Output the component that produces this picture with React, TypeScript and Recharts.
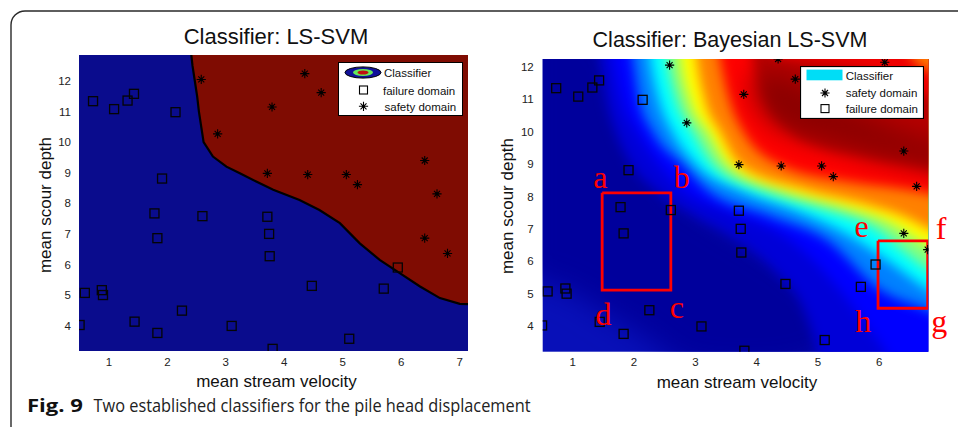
import React from 'react';
import { ComposedChart, Area, Line, Scatter, XAxis, YAxis, CartesianGrid, Legend, ReferenceDot } from 'recharts';

// ---------- shared observations ----------
const failureDomain = [
  { x: 0.73, y: 11.34 }, { x: 1.09, y: 11.08 }, { x: 1.32, y: 11.36 }, { x: 1.43, y: 11.58 },
  { x: 2.14, y: 10.98 }, { x: 1.91, y: 8.81 }, { x: 1.78, y: 7.67 }, { x: 2.6, y: 7.58 },
  { x: 3.71, y: 7.56 }, { x: 1.83, y: 6.86 }, { x: 3.74, y: 7.0 }, { x: 3.75, y: 6.27 },
  { x: 5.94, y: 5.9 }, { x: 0.59, y: 5.07 }, { x: 0.88, y: 5.16 }, { x: 0.9, y: 5.0 },
  { x: 4.47, y: 5.3 }, { x: 5.7, y: 5.21 }, { x: 2.25, y: 4.49 }, { x: 0.5, y: 4.02 },
  { x: 1.44, y: 4.13 }, { x: 1.83, y: 3.76 }, { x: 3.1, y: 3.99 }, { x: 5.11, y: 3.57 },
  { x: 3.8, y: 3.24 },
];
const safetyDomain = [
  { x: 2.58, y: 12.05 }, { x: 4.35, y: 12.24 }, { x: 6.09, y: 12.14 }, { x: 4.63, y: 11.62 },
  { x: 3.79, y: 11.15 }, { x: 2.86, y: 10.27 }, { x: 6.4, y: 9.4 }, { x: 3.71, y: 8.98 },
  { x: 4.4, y: 8.94 }, { x: 5.06, y: 8.94 }, { x: 5.25, y: 8.61 }, { x: 6.61, y: 8.31 },
  { x: 6.4, y: 6.86 }, { x: 6.79, y: 6.36 },
];

// ---------- left panel: LS-SVM ----------
const lsXDomain = [0.49, 7.14];
const lsYDomain = [3.17, 12.85];
const lsXTicks = [1, 2, 3, 4, 5, 6, 7];
const lsYTicks = [4, 5, 6, 7, 8, 9, 10, 11, 12];
const lsBoundary = [
  { x: 2.41, y: 12.85 }, { x: 2.43, y: 12.5 }, { x: 2.47, y: 12.0 }, { x: 2.51, y: 11.5 },
  { x: 2.54, y: 11.0 }, { x: 2.58, y: 10.5 }, { x: 2.62, y: 10.0 }, { x: 2.78, y: 9.53 },
  { x: 3.01, y: 9.2 }, { x: 3.24, y: 8.98 }, { x: 3.52, y: 8.71 }, { x: 3.81, y: 8.44 },
  { x: 4.26, y: 8.11 }, { x: 4.6, y: 7.78 }, { x: 4.95, y: 7.35 }, { x: 5.29, y: 6.69 },
  { x: 5.63, y: 6.15 }, { x: 5.98, y: 5.71 }, { x: 6.32, y: 5.28 }, { x: 6.66, y: 4.9 },
  { x: 7.0, y: 4.71 }, { x: 7.14, y: 4.7 },
];

// ---------- right panel: Bayesian LS-SVM ----------
const bxXDomain = [0.51, 6.8];
const bxYDomain = [3.21, 12.24];
const bxXTicks = [1, 2, 3, 4, 5, 6];
const bxYTicks = [4, 5, 6, 7, 8, 9, 10, 11, 12];

// iso-lines of the posterior surface (region up-right of each is painted)
const isoMedBlue = [
  { x: 1.35, y: 13.5 }, { x: 1.45, y: 12.24 }, { x: 1.55, y: 11.0 }, { x: 1.7, y: 10.0 },
  { x: 1.95, y: 9.0 }, { x: 2.35, y: 8.2 }, { x: 3.0, y: 7.4 }, { x: 3.7, y: 6.65 },
  { x: 4.3, y: 5.7 }, { x: 4.75, y: 4.6 }, { x: 5.0, y: 3.21 }, { x: 5.1, y: 2.5 }, { x: 7.4, y: 2.4 },
];
const isoBlue = [
  { x: 1.55, y: 13.5 }, { x: 1.66, y: 12.24 }, { x: 1.8, y: 11.0 }, { x: 2.05, y: 10.0 },
  { x: 2.4, y: 9.0 }, { x: 2.8, y: 8.2 }, { x: 3.6, y: 7.5 }, { x: 4.55, y: 6.65 },
  { x: 5.36, y: 5.11 }, { x: 5.8, y: 4.0 }, { x: 6.1, y: 3.21 }, { x: 6.3, y: 2.5 }, { x: 7.4, y: 2.4 },
];
const isoAzure = [
  { x: 1.88, y: 13.5 }, { x: 1.98, y: 12.24 }, { x: 2.08, y: 11.0 }, { x: 2.3, y: 10.0 },
  { x: 2.8, y: 8.97 }, { x: 3.19, y: 8.2 }, { x: 4.2, y: 7.4 }, { x: 5.15, y: 6.65 },
  { x: 6.02, y: 5.11 }, { x: 6.8, y: 4.49 }, { x: 7.4, y: 4.0 },
];
const isoCyan = [
  { x: 2.18, y: 13.5 }, { x: 2.26, y: 12.24 }, { x: 2.4, y: 11.0 }, { x: 2.62, y: 10.0 },
  { x: 3.02, y: 8.97 }, { x: 3.73, y: 8.2 }, { x: 4.6, y: 7.6 }, { x: 5.55, y: 6.75 },
  { x: 6.15, y: 6.0 }, { x: 6.8, y: 5.11 }, { x: 7.4, y: 4.5 },
];
const isoGreen = [
  { x: 2.45, y: 13.5 }, { x: 2.53, y: 12.24 }, { x: 2.68, y: 11.0 }, { x: 2.95, y: 10.0 },
  { x: 3.29, y: 8.97 }, { x: 4.06, y: 8.2 }, { x: 5.0, y: 7.65 }, { x: 5.97, y: 6.96 },
  { x: 6.4, y: 6.3 }, { x: 6.8, y: 5.73 }, { x: 7.4, y: 5.2 },
];
const isoYellow = [
  { x: 2.68, y: 13.5 }, { x: 2.75, y: 12.24 }, { x: 2.9, y: 11.0 }, { x: 3.2, y: 10.0 },
  { x: 3.54, y: 8.97 }, { x: 4.44, y: 8.2 }, { x: 5.4, y: 7.7 }, { x: 6.2, y: 7.15 },
  { x: 6.62, y: 6.65 }, { x: 6.8, y: 6.44 }, { x: 7.4, y: 5.9 },
];
const isoOrange = [
  { x: 2.95, y: 13.5 }, { x: 3.02, y: 12.24 }, { x: 3.15, y: 11.0 }, { x: 3.4, y: 10.0 },
  { x: 3.73, y: 8.97 }, { x: 4.82, y: 8.2 }, { x: 5.8, y: 7.75 }, { x: 6.5, y: 7.3 },
  { x: 6.8, y: 7.0 }, { x: 7.4, y: 6.5 },
];
const isoRed = [
  { x: 3.3, y: 13.5 }, { x: 3.4, y: 12.24 }, { x: 3.55, y: 11.0 }, { x: 3.78, y: 10.0 },
  { x: 4.38, y: 8.97 }, { x: 5.5, y: 8.45 }, { x: 6.3, y: 8.25 }, { x: 6.8, y: 8.1 }, { x: 7.4, y: 7.8 },
];
const isoDarkRed = [
  { x: 3.85, y: 13.5 }, { x: 3.94, y: 12.24 }, { x: 4.15, y: 11.0 }, { x: 4.55, y: 10.0 },
  { x: 5.0, y: 9.55 }, { x: 5.7, y: 9.25 }, { x: 6.8, y: 8.85 }, { x: 7.4, y: 8.6 },
];
const isoCornerRed = [
  { x: 4.0, y: 13.5 }, { x: 4.3, y: 12.35 }, { x: 5.0, y: 12.15 }, { x: 5.8, y: 11.9 },
  { x: 6.4, y: 11.5 }, { x: 6.8, y: 11.1 }, { x: 7.4, y: 10.6 },
];
const isoCornerOrange = [
  { x: 6.3, y: 13.5 }, { x: 6.55, y: 12.24 }, { x: 6.8, y: 11.9 }, { x: 7.4, y: 11.4 },
];
// low / high bands of the darkest blue valley and darkest red ridge
const blueValley = [
  { x: 0.2, r: [5.5, 13.5] }, { x: 1.0, r: [5.0, 13.5] }, { x: 1.6, r: [4.3, 12.8] },
  { x: 2.2, r: [3.6, 10.0] }, { x: 2.8, r: [2.8, 8.2] }, { x: 3.5, r: [2.6, 7.2] },
  { x: 4.2, r: [2.6, 6.4] }, { x: 4.8, r: [2.8, 5.6] }, { x: 5.3, r: [3.2, 4.6] }, { x: 5.6, r: [3.6, 3.6] },
];
const redRidge = [
  { x: 3.9, r: [11.4, 11.4] }, { x: 4.2, r: [10.4, 11.9] }, { x: 4.6, r: [10.0, 11.6] },
  { x: 5.2, r: [9.7, 11.0] }, { x: 5.8, r: [9.35, 10.5] }, { x: 6.4, r: [9.1, 10.0] },
  { x: 6.9, r: [8.9, 9.7] }, { x: 7.4, r: [8.7, 9.5] },
];
const bands = [
  { id: 'medBlue', data: isoMedBlue, color: '#0000d8' },
  { id: 'blue', data: isoBlue, color: '#0000ff' },
  { id: 'azure', data: isoAzure, color: '#0080ff' },
  { id: 'cyan', data: isoCyan, color: '#00ffff' },
  { id: 'green', data: isoGreen, color: '#80ff80' },
  { id: 'yellow', data: isoYellow, color: '#ffff00' },
  { id: 'orange', data: isoOrange, color: '#ff8000' },
  { id: 'red', data: isoRed, color: '#ff0000' },
  { id: 'darkRed', data: isoDarkRed, color: '#b80000' },
];
const cornerBands = [
  { id: 'cornerRed', data: isoCornerRed, color: '#ee0000' },
  { id: 'cornerOrange', data: isoCornerOrange, color: '#ff7a00' },
];

const boxABCD = [
  { x: 1.48, y: 8.11 }, { x: 2.6, y: 8.11 }, { x: 2.6, y: 5.11 }, { x: 1.48, y: 5.11 }, { x: 1.48, y: 8.11 },
];
const boxEFGH = [
  { x: 5.98, y: 6.63 }, { x: 6.79, y: 6.63 }, { x: 6.79, y: 4.55 }, { x: 5.98, y: 4.55 }, { x: 5.98, y: 6.63 },
];
const cornerLabels = [
  { t: 'a', x: 1.45, y: 8.25 }, { t: 'b', x: 2.78, y: 8.25 }, { t: 'c', x: 2.7, y: 4.24 },
  { t: 'd', x: 1.5, y: 4.03 }, { t: 'e', x: 5.71, y: 6.76 }, { t: 'f', x: 7.01, y: 6.7 },
  { t: 'g', x: 6.98, y: 3.82 }, { t: 'h', x: 5.74, y: 3.82 },
];

const lsLegendLabels = ['Classifier', 'failure domain', 'safety domain'];
const bxLegendLabels = ['Classifier', 'safety domain', 'failure domain'];

const SANS = '"Liberation Sans", Arial, sans-serif';

const SquareMark = (p: any) => {
  const { cx, cy } = p;
  if (cx == null || cy == null) return <g />;
  return <rect x={cx - 4.5} y={cy - 4.5} width={9} height={9} fill="none" stroke="#050505" strokeWidth={1.3} />;
};
const StarMark = (p: any) => {
  const { cx, cy } = p;
  if (cx == null || cy == null) return <g />;
  const a = 4.6;
  const d = 3.0;
  return (
    <g>
      <path
        d={`M${cx - a},${cy}L${cx + a},${cy}M${cx},${cy - a}L${cx},${cy + a}M${cx - d},${cy - d}L${cx + d},${cy + d}M${cx - d},${cy + d}L${cx + d},${cy - d}`}
        stroke="#000" strokeWidth={1.1} fill="none"
      />
      <circle cx={cx} cy={cy} r={1.5} fill="#000" />
    </g>
  );
};

const tickStyle = { fontSize: 11.5, fill: '#222', fontFamily: SANS };

const LsLegend = () => (
  <svg width={125} height={54} style={{ display: 'block' }}>
    <rect x={0.5} y={0.5} width={124} height={53} fill="#fff" stroke="#000" strokeWidth={1} />
    <ellipse cx={25} cy={10.5} rx={18} ry={5.6} fill="#10109a" stroke="#000" strokeWidth={1} />
    <ellipse cx={25} cy={10.5} rx={10} ry={3.4} fill="#66e85a" />
    <ellipse cx={25} cy={10.5} rx={5.5} ry={2} fill="#c01010" />
    <text x={46} y={15} fontSize={11.5} fontFamily={SANS} fill="#111">{lsLegendLabels[0]}</text>
    <rect x={21.5} y={24} width={8} height={8} fill="none" stroke="#000" strokeWidth={1.1} />
    <text x={45} y={32.5} fontSize={11.5} fontFamily={SANS} fill="#111">{lsLegendLabels[1]}</text>
    <StarMark cx={25.5} cy={44.3} />
    <text x={46.5} y={49} fontSize={11.5} fontFamily={SANS} fill="#111">{lsLegendLabels[2]}</text>
  </svg>
);
const BxLegend = () => (
  <svg width={124} height={53} style={{ display: 'block' }}>
    <rect x={0.5} y={0.5} width={123} height={52} fill="#fff" stroke="#000" strokeWidth={1.2} />
    <rect x={6.5} y={3.6} width={36} height={10.7} fill="#00ddf6" />
    <text x={45.7} y={14.3} fontSize={11.5} fontFamily={SANS} fill="#111">{bxLegendLabels[0]}</text>
    <StarMark cx={25} cy={27} />
    <text x={45.7} y={31} fontSize={11.5} fontFamily={SANS} fill="#111">{bxLegendLabels[1]}</text>
    <rect x={21} y={38.6} width={8} height={8} fill="none" stroke="#000" strokeWidth={1.1} />
    <text x={45.7} y={46.6} fontSize={11.5} fontFamily={SANS} fill="#111">{bxLegendLabels[2]}</text>
  </svg>
);

export default function App() {
  return (
    <div style={{ position: 'absolute', left: 0, top: 0, width: 958, height: 427, background: '#fff', overflow: 'hidden' }}>
      <style>{`
        .blurband .recharts-area-area { filter: url(#bandBlur); }
        .blurblob .recharts-area-area { filter: url(#blobBlur); }
      `}</style>
      <svg width={958} height={427} style={{ position: 'absolute', left: 0, top: 0 }}>
        <path d="M11,427 V25 A14,14 0 0 1 25,11 H958" fill="none" stroke="#2a2a2a" strokeWidth={1.4} />
        <text x={276} y={43.5} textAnchor="middle" fontSize={22} fontFamily={SANS} fill="#111">Classifier: LS-SVM</text>
        <text x={730} y={47} textAnchor="middle" fontSize={21.5} fontFamily={SANS} fill="#111">Classifier: Bayesian LS-SVM</text>
        <text x={276.5} y={387} textAnchor="middle" fontSize={17} fontFamily={SANS} fill="#111">mean stream velocity</text>
        <text x={737} y={388} textAnchor="middle" fontSize={17} fontFamily={SANS} fill="#111">mean stream velocity</text>
        <text transform="translate(51,205) rotate(-90)" textAnchor="middle" fontSize={17} fontFamily={SANS} fill="#111">mean scour depth</text>
        <text transform="translate(513,206) rotate(-90)" textAnchor="middle" fontSize={17} fontFamily={SANS} fill="#111">mean scour depth</text>
        <text x={27} y={411.5} fontFamily='"Open Sans", sans-serif' fontSize={18} fontWeight={700} fill="#111"
          textLength={56} lengthAdjust="spacingAndGlyphs">Fig. 9</text>
        <text x={93.5} y={411.5} fontFamily='"Open Sans", sans-serif' fontSize={17.5} fill="#222"
          textLength={437} lengthAdjust="spacingAndGlyphs">Two established classifiers for the pile head displacement</text>
      </svg>

      <div style={{ position: 'absolute', left: 0, top: 0 }}>
        <ComposedChart width={480} height={400} margin={{ top: 55, right: 12, bottom: 19, left: 39 }}>
          <CartesianGrid horizontal={false} vertical={false} fill="#0a0c8d" />
          <XAxis type="number" dataKey="x" domain={lsXDomain} ticks={lsXTicks} allowDataOverflow interval={0}
            height={30} tickLine={false} axisLine={false} tick={tickStyle} tickMargin={1} />
          <YAxis type="number" dataKey="y" domain={lsYDomain} ticks={lsYTicks} allowDataOverflow interval={0}
            width={40} tickLine={false} axisLine={false} tick={tickStyle} />
          <Area data={lsBoundary} dataKey="y" baseValue={lsYDomain[1]} type="linear" fill="#7f0c02" fillOpacity={1}
            stroke="#000" strokeWidth={2.2} isAnimationActive={false} dot={false} activeDot={false} />
          <Scatter data={failureDomain} dataKey="y" shape={SquareMark} isAnimationActive={false} />
          <Scatter data={safetyDomain} dataKey="y" shape={StarMark} isAnimationActive={false} />
          <Legend layout="vertical" verticalAlign="middle" align="center" content={() => <LsLegend />}
            wrapperStyle={{ left: 338, top: 62, width: 125, height: 54 }} />
        </ComposedChart>
      </div>

      <div style={{ position: 'absolute', left: 480, top: 0 }}>
        <ComposedChart width={478} height={400} margin={{ top: 59, right: 29.7, bottom: 18.3, left: 22.7 }}>
          <defs>
            <filter id="bandBlur" filterUnits="userSpaceOnUse" x={-300} y={-300} width={1600} height={1100}>
              <feGaussianBlur stdDeviation={6} />
            </filter>
            <filter id="blobBlur" filterUnits="userSpaceOnUse" x={-300} y={-300} width={1600} height={1100}>
              <feGaussianBlur stdDeviation={14} />
            </filter>
          </defs>
          <CartesianGrid horizontal={false} vertical={false} fill="#0810b8" />
          <XAxis type="number" dataKey="x" domain={bxXDomain} ticks={bxXTicks} allowDataOverflow interval={0}
            height={30} tickLine={false} axisLine={false} tick={tickStyle} tickMargin={0} />
          <YAxis type="number" dataKey="y" domain={bxYDomain} ticks={bxYTicks} allowDataOverflow interval={0}
            width={40} tickLine={false} axisLine={false} tick={tickStyle} tickMargin={3} />
          <Area className="blurblob" data={blueValley} dataKey="r" type="monotone" fill="#00009c" fillOpacity={1}
            stroke="none" isAnimationActive={false} dot={false} activeDot={false} />
          {bands.map((b) => (
            <Area key={b.id} className="blurband" data={b.data} dataKey="y" baseValue={13.5} type="monotone"
              fill={b.color} fillOpacity={1} stroke="none" isAnimationActive={false} dot={false} activeDot={false} />
          ))}
          <Area className="blurblob" data={redRidge} dataKey="r" type="monotone" fill="#8a0000" fillOpacity={1}
            stroke="none" isAnimationActive={false} dot={false} activeDot={false} />
          {cornerBands.map((b) => (
            <Area key={b.id} className="blurband" data={b.data} dataKey="y" baseValue={13.5} type="monotone"
              fill={b.color} fillOpacity={1} stroke="none" isAnimationActive={false} dot={false} activeDot={false} />
          ))}
          <Line data={boxABCD} dataKey="y" type="linear" stroke="#ff0000" strokeWidth={2.8} dot={false} activeDot={false} isAnimationActive={false} />
          <Line data={boxEFGH} dataKey="y" type="linear" stroke="#ff0000" strokeWidth={2.8} dot={false} activeDot={false} isAnimationActive={false} />
          <Scatter data={safetyDomain} dataKey="y" shape={StarMark} isAnimationActive={false} />
          <Scatter data={failureDomain} dataKey="y" shape={SquareMark} isAnimationActive={false} />
          {cornerLabels.map((l) => (
            <ReferenceDot key={l.t} x={l.x} y={l.y} r={0} ifOverflow="visible"
              shape={(p: any) => (
                <text x={p.cx} y={p.cy} textAnchor="middle" fill="#ff0000" fontSize={32}
                  fontFamily='"Liberation Serif", "Times New Roman", serif'>{l.t}</text>
              )} />
          ))}
          <Legend layout="vertical" verticalAlign="middle" align="center" content={() => <BxLegend />}
            wrapperStyle={{ left: 320, top: 65.7, width: 124, height: 53 }} />
        </ComposedChart>
      </div>
    </div>
  );
}
